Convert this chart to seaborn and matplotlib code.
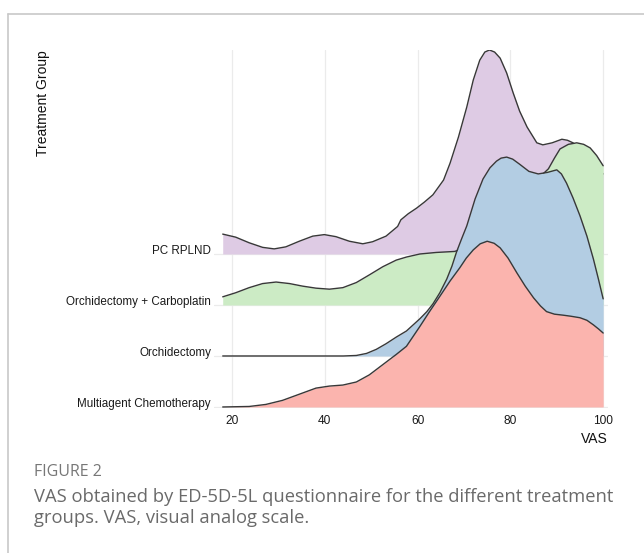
import pandas as pd
import seaborn as sns
import matplotlib.pyplot as plt
from matplotlib.lines import Line2D

groups = ["Multiagent Chemotherapy", "Orchidectomy", "Orchidectomy + Carboplatin", "PC RPLND"]
colors = ["#FBB4AE", "#B3CDE3", "#CCEBC5", "#DECBE4"]
xticks = [20, 40, 60, 80, 100]

# ridge heights (1.0 = distance between two baselines)
chemo_vas = [18, 23.7, 27.3, 30.9, 34.5, 38.1, 41, 43.9, 46.8, 49.6, 52.5, 55.4, 57.6, 60.5,
             62.5, 64.8, 67, 69.1, 70.5, 72, 73.5, 75, 76.5, 77.8, 79.5, 81.4, 83.2, 85, 86.5,
             87.8, 89.5, 91.4, 93, 95, 96.5, 97.9, 99, 100]
chemo_h = [0, 0.01, 0.05, 0.13, 0.25, 0.37, 0.41, 0.43, 0.49, 0.63, 0.83, 1.03, 1.19, 1.58,
           1.86, 2.17, 2.47, 2.73, 2.92, 3.08, 3.20, 3.25, 3.21, 3.12, 2.92, 2.63, 2.37, 2.14,
           1.98, 1.87, 1.82, 1.80, 1.78, 1.75, 1.70, 1.61, 1.53, 1.45]

orch_vas = [18, 30, 44, 46.8, 49, 51.1, 53.2, 55.4, 57.6, 60.5, 62, 63.3, 64.8, 66.3, 67.4,
            68.4, 69.5, 70.6, 72.4, 74.1, 75.6, 77, 78, 79.2, 80.5, 82, 84, 86, 88, 90, 91,
            92.1, 93.5, 95, 96.5, 97.9, 99, 100]
orch_h = [0, 0, 0, 0.01, 0.05, 0.13, 0.24, 0.37, 0.49, 0.73, 0.87, 1.02, 1.24, 1.51, 1.76,
          2.04, 2.30, 2.55, 3.08, 3.47, 3.69, 3.82, 3.88, 3.90, 3.86, 3.76, 3.62, 3.57, 3.60,
          3.65, 3.57, 3.39, 3.10, 2.75, 2.35, 1.90, 1.50, 1.12]

carbo_vas = [18, 20.8, 23.7, 26.6, 29.5, 32.4, 35.2, 38.1, 41, 43.9, 46.8, 49.6, 52.5, 55.4,
             57.6, 60.5, 64, 68, 72, 76, 80, 84, 88.2, 89.5, 90.7, 92.5, 94.3, 95.8, 97.2,
             98.6, 100]
carbo_h = [0.16, 0.24, 0.34, 0.42, 0.45, 0.42, 0.37, 0.33, 0.31, 0.34, 0.44, 0.59, 0.75, 0.88,
           0.94, 1.00, 1.03, 1.05, 1.18, 1.47, 1.86, 2.31, 2.67, 2.88, 3.06, 3.15, 3.18, 3.15,
           3.08, 2.93, 2.73]

rplnd_vas = [18, 20.8, 23.7, 26.6, 29.1, 31.6, 34.5, 37.4, 39.9, 42.4, 45.3, 48.2, 50.3, 53.2,
             55.7, 56.4, 58, 59.8, 61.5, 63.3, 65.6, 67, 68.8, 70.6, 72, 73.4, 74.5, 75.5, 76.6,
             77.8, 79.2, 80.6, 82, 83.6, 85.7, 87, 89, 91.1, 92.3, 93.5, 96, 100]
rplnd_h = [0.39, 0.33, 0.22, 0.13, 0.10, 0.14, 0.25, 0.35, 0.38, 0.34, 0.25, 0.20, 0.24, 0.35,
           0.54, 0.67, 0.79, 0.90, 1.02, 1.16, 1.45, 1.78, 2.29, 2.88, 3.41, 3.80, 3.96, 4.00,
           3.96, 3.84, 3.55, 3.16, 2.80, 2.49, 2.18, 2.14, 2.18, 2.25, 2.23, 2.18, 1.96, 1.57]

frames = []
for i, (name, v, h) in enumerate(zip(groups,
                                     [chemo_vas, orch_vas, carbo_vas, rplnd_vas],
                                     [chemo_h, orch_h, carbo_h, rplnd_h])):
    d = pd.DataFrame({"VAS": v, "height": h})
    d["group"] = name
    d["base"] = i
    d["top"] = d["base"] + d["height"]
    frames.append(d)
df = pd.concat(frames, ignore_index=True)

sns.set_theme(style="white")
plt.rcParams["font.family"] = ["Liberation Sans", "DejaVu Sans"]

fig = plt.figure(figsize=(6.44, 5.53), dpi=100)
ax = fig.add_axes([213.9 / 644, 145 / 553, 393.9 / 644, 358 / 553])

# top ridge first so lower ridges overlap it
for i in range(len(groups) - 1, -1, -1):
    d = df[df["group"] == groups[i]]
    z = 10 + (len(groups) - i) * 2
    ax.fill_between(d["VAS"], d["base"], d["top"], color=colors[i], lw=0, zorder=z)
    sns.lineplot(data=d, x="VAS", y="top", color="#383838", lw=1.0, ax=ax,
                 legend=False, zorder=z + 1)

ax.set_xlim(16.1, 101)
ax.set_ylim(-0.02, 7.0)
ax.set_xticks(xticks)
ax.set_yticks(range(len(groups)), groups)
for lab in ax.get_yticklabels():
    lab.set_verticalalignment("baseline")
ax.tick_params(axis="y", length=0, pad=2, labelsize=8.4, labelcolor="#1a1a1a")
ax.tick_params(axis="x", length=0, pad=5, labelsize=8.6, labelcolor="#1a1a1a")
ax.grid(True, color="#ebebeb", lw=0.9, zorder=0)
ax.set_axisbelow(True)
for s in ax.spines.values():
    s.set_visible(False)
ax.set_xlabel("")
ax.set_ylabel("")

fig.text(608 / 644, 1 - 439 / 553, "VAS", ha="right", va="center", fontsize=10, color="#111111")
fig.text(43 / 644, 1 - 50 / 553, "Treatment Group", rotation=90, ha="center", va="top",
         fontsize=10, color="#111111")

# card border
fig.add_artist(Line2D([8 / 644, 1], [1 - 14 / 553, 1 - 14 / 553], color="#c8c8c8", lw=1.2))
fig.add_artist(Line2D([8 / 644, 8 / 644], [0, 1 - 14 / 553], color="#c8c8c8", lw=1.2))

cap = ["Open Sans", "DejaVu Sans"]
fig.text(34 / 644, 1 - 472 / 553, "FIGURE 2", ha="left", va="center", fontsize=11.5,
         color="#777777", family=cap)
fig.text(34 / 644, 1 - 497 / 553,
         "VAS obtained by ED-5D-5L questionnaire for the different treatment",
         ha="left", va="center", fontsize=13.2, color="#6a6a6a", family=cap)
fig.text(34 / 644, 1 - 518 / 553, "groups. VAS, visual analog scale.",
         ha="left", va="center", fontsize=13.2, color="#6a6a6a", family=cap)

fig.savefig("out.png", dpi=100, facecolor="white")
